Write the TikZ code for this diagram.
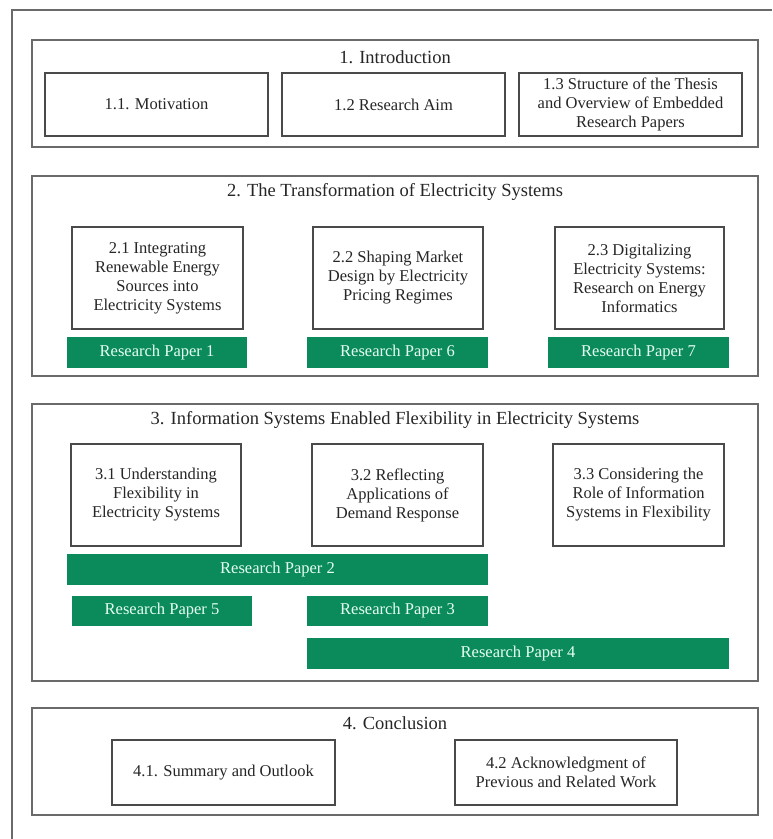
\documentclass[tikz,border=0pt]{standalone}
\usepackage{fontspec}
\setmainfont{Liberation Serif}
\definecolor{rpgreen}{HTML}{0B8A5C}
\definecolor{rptext}{HTML}{E6FFF3}
\definecolor{secgray}{HTML}{6A6A6A}
\definecolor{boxgray}{HTML}{4A4A4A}
\definecolor{txt}{HTML}{262626}
\begin{document}
\begin{tikzpicture}[x=1pt,y=-1pt,
  every node/.style={font=\fontsize{16.5}{19}\selectfont, text=txt, inner sep=0pt, align=center},
  section/.style={draw=secgray, line width=1.8pt, fill=white},
  subbox/.style={draw=boxgray, line width=1.3pt, fill=white},
  paper/.style={fill=rpgreen, text=rptext},
  title/.style={font=\fontsize{18.5}{22}\selectfont}]
\useasboundingbox (0,0) rectangle (772,839);
\fill[white] (0,0) rectangle (772,839);
\coordinate (fbl) at (12,839);
\coordinate (ftl) at (12,10);
\coordinate (ftr) at (772,10);
\draw[secgray, line width=1.5pt] (fbl) -- (ftl) -- (ftr);

% Section 1
\node[section, minimum width=726, minimum height=107] (s1) at (395,93.5) {};
\node[title] (t1) at (395,57) {1. Introduction};
\node[subbox, minimum width=223, minimum height=63] (b11) at (156.5,104.5) {1.1. Motivation};
\node[subbox, minimum width=223, minimum height=63] (b12) at (393.5,104.5) {1.2 Research Aim};
\node[subbox, minimum width=223, minimum height=63] (b13) at (630.5,104.5) {1.3 Structure of the Thesis\\and Overview of Embedded\\Research Papers};

% Section 2
\node[section, minimum width=726, minimum height=200] (s2) at (395,276) {};
\node[title] (t2) at (395,192) {2. The Transformation of Electricity Systems};
\node[subbox, minimum width=171, minimum height=102] (b21) at (157.5,278) {2.1 Integrating\\Renewable Energy\\Sources into\\Electricity Systems};
\node[subbox, minimum width=170, minimum height=102] (b22) at (398,278) {2.2 Shaping Market\\Design by Electricity\\Pricing Regimes};
\node[subbox, minimum width=169, minimum height=102] (b23) at (639.5,278) {2.3 Digitalizing\\Electricity Systems:\\Research on Energy\\Informatics};
\node[paper, minimum width=180, minimum height=31] (rp1) at (157,352.5) {Research Paper 1};
\node[paper, minimum width=181, minimum height=31] (rp6) at (397.5,352.5) {Research Paper 6};
\node[paper, minimum width=181, minimum height=31] (rp7) at (638.5,352.5) {Research Paper 7};

% Section 3
\node[section, minimum width=726, minimum height=277] (s3) at (395,542.5) {};
\node[title] (t3) at (395,420) {3. Information Systems Enabled Flexibility in Electricity Systems};
\node[subbox, minimum width=170, minimum height=102] (b31) at (156,495) {3.1 Understanding\\Flexibility in\\Electricity Systems};
\node[subbox, minimum width=171, minimum height=102] (b32) at (397.5,495) {3.2 Reflecting\\Applications of\\Demand Response};
\node[subbox, minimum width=171, minimum height=102] (b33) at (638.5,495) {3.3 Considering the\\Role of Information\\Systems in Flexibility};
\node[paper, minimum width=421, minimum height=31] (rp2) at (277.5,569.5) {Research Paper 2};
\node[paper, minimum width=180, minimum height=30] (rp5) at (162,611) {Research Paper 5};
\node[paper, minimum width=181, minimum height=30] (rp3) at (397.5,611) {Research Paper 3};
\node[paper, minimum width=422, minimum height=31] (rp4) at (518,653.5) {Research Paper 4};

% Section 4
\node[section, minimum width=726, minimum height=107] (s4) at (395,761.5) {};
\node[title] (t4) at (395,723) {4. Conclusion};
\node[subbox, minimum width=223, minimum height=65] (b41) at (223.5,772.5) {4.1. Summary and Outlook};
\node[subbox, minimum width=222, minimum height=65] (b42) at (566,772.5) {4.2 Acknowledgment of\\Previous and Related Work};
\end{tikzpicture}
\end{document}
